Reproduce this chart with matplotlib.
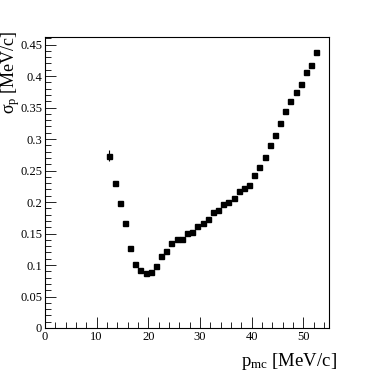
import numpy as np
import matplotlib.pyplot as plt
from matplotlib.ticker import MultipleLocator

plt.rcParams['font.family'] = ['Liberation Serif', 'DejaVu Serif']
plt.rcParams['mathtext.fontset'] = 'custom'
plt.rcParams['mathtext.rm'] = 'Liberation Serif'
plt.rcParams['mathtext.it'] = 'Liberation Serif'

p_mc = [12.5, 13.5, 14.5, 15.5, 16.5, 17.5, 18.5, 19.5, 20.5, 21.5,
        22.5, 23.5, 24.5, 25.5, 26.5, 27.5, 28.5, 29.5, 30.5, 31.5,
        32.5, 33.5, 34.5, 35.5, 36.5, 37.5, 38.5, 39.5, 40.5, 41.5,
        42.5, 43.5, 44.5, 45.5, 46.5, 47.5, 48.5, 49.5, 50.5, 51.5, 52.5]
sigma_p = [0.2735, 0.230, 0.198, 0.166, 0.127, 0.102, 0.092, 0.088, 0.0895, 0.0986,
           0.115, 0.123, 0.135, 0.1415, 0.1415, 0.151, 0.153, 0.162, 0.1665, 0.173,
           0.184, 0.187, 0.1967, 0.200, 0.2067, 0.218, 0.2215, 0.227, 0.243, 0.256,
           0.272, 0.291, 0.307, 0.325, 0.344, 0.360, 0.374, 0.387, 0.4066, 0.418, 0.438]
sigma_err = [0.009, 0.004] + [0.002] * 39

fig = plt.figure(figsize=(3.74, 3.74), dpi=100)
ax = fig.add_axes([0.120, 0.123, 0.760, 0.778])

ax.errorbar(p_mc, sigma_p, yerr=sigma_err, fmt='s', color='black',
            markersize=3.6, elinewidth=0.8, capsize=0)

ax.set_xlim(0, 55)
ax.set_ylim(0, 0.462)
ax.xaxis.set_major_locator(MultipleLocator(10))
ax.xaxis.set_minor_locator(MultipleLocator(2))
ax.yaxis.set_major_locator(MultipleLocator(0.05))
ax.yaxis.set_minor_locator(MultipleLocator(0.01))
ax.set_yticks(np.arange(0, 0.46, 0.05))
ax.set_yticklabels(['0', '0.05', '0.1', '0.15', '0.2', '0.25', '0.3', '0.35', '0.4', '0.45'])

ax.tick_params(which='both', direction='in', top=False, right=False,
               labelsize=9, pad=2)
ax.tick_params(which='major', length=8, width=0.6)
ax.tick_params(which='minor', length=4, width=0.6)
for s in ax.spines.values():
    s.set_linewidth(0.8)

ax.set_xlabel(r'p$_{\mathrm{mc}}$ [MeV/c]', fontsize=13.5, loc='right')
ax.set_ylabel(r'$\sigma_{\mathrm{p}}$ [MeV/c]', fontsize=13, loc='top')
ax.xaxis.set_label_coords(1.028, -0.08)
ax.yaxis.set_label_coords(-0.082, 1.022)

fig.savefig('out.png', dpi=100)
